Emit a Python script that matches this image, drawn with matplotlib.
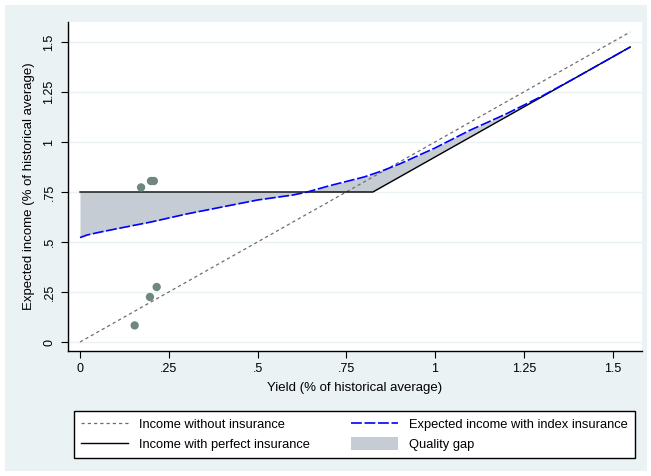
import numpy as np
import matplotlib
matplotlib.use("Agg")
import matplotlib.pyplot as plt
from matplotlib.patches import Rectangle, Patch
from matplotlib.lines import Line2D

plt.rcParams['font.family'] = ['Liberation Sans', 'DejaVu Sans']

# Data
no_ins_x = [0.0, 1.55]
no_ins_y = [0.0, 1.55]

perfect_x = [0.0, 0.825, 1.55]
perfect_y = [0.75, 0.75, 1.475]

index_x = [0.0, 0.02, 0.05, 0.1, 0.2, 0.25, 0.3, 0.4, 0.5, 0.6, 0.64, 0.7, 0.8, 0.85, 0.9,
           1.0, 1.1, 1.2, 1.3, 1.4, 1.55]
index_y = [0.522, 0.535, 0.547, 0.565, 0.60, 0.62, 0.64, 0.675, 0.71, 0.735, 0.75, 0.78, 0.825,
           0.855, 0.89, 0.97, 1.06, 1.14, 1.228, 1.325, 1.475]

pts_x = [0.154, 0.172, 0.200, 0.208, 0.197, 0.216]
pts_y = [0.083, 0.773, 0.805, 0.805, 0.225, 0.275]

xticks = [0, 0.25, 0.5, 0.75, 1, 1.25, 1.5]
xticklabels = ['0', '.25', '.5', '.75', '1', '1.25', '1.5']
yticks = [0, 0.25, 0.5, 0.75, 1, 1.25, 1.5]
yticklabels = ['0', '.25', '.5', '.75', '1', '1.25', '1.5']

W, H = 651, 476
fig = plt.figure(figsize=(W / 100, H / 100), dpi=100)
fig.patch.set_facecolor('white')
bg = Rectangle((5 / W, 5 / H), 642 / W, 466 / H, transform=fig.transFigure,
               facecolor='#EAF2F3', edgecolor='none', zorder=-10)
fig.patches.append(bg)

ax = fig.add_axes([68 / W, (H - 351) / H, (642 - 68) / W, (351 - 22) / H])
ax.set_facecolor('white')

# fill for quality gap
grid = np.union1d(np.array(index_x), np.array(perfect_x))
grid = np.union1d(grid, np.linspace(0, 1.55, 400))
b = np.interp(grid, perfect_x, perfect_y)
bl = np.interp(grid, index_x, index_y)
ax.fill_between(grid, b, bl, color='#C6CCD3', linewidth=0, zorder=1)

for yv in yticks:
    ax.axhline(yv, color='#EAF2F3', lw=1.0, zorder=0)

ax.plot(no_ins_x, no_ins_y, color='#6E6E6E', lw=0.9, dashes=(2.6, 2.4), zorder=3)
ax.plot(perfect_x, perfect_y, color='black', lw=1.0, zorder=3)
ax.plot(index_x, index_y, color='#0000FF', lw=1.2, dashes=(6.5, 1.6), zorder=4)
ax.scatter(pts_x, pts_y, s=36, color='#6E887E', edgecolors='none', zorder=5)

ax.set_xlim((68 - 80) / 355, (642 - 80) / 355)
ax.set_ylim((342 - 351) / 200, (342 - 22) / 200)

ax.set_xticks(xticks)
ax.set_xticklabels(xticklabels)
ax.set_yticks(yticks)
ax.set_yticklabels(yticklabels, rotation=90, va='center')
ax.tick_params(axis='both', direction='out', length=5, width=0.8, labelsize=9, pad=4)

for s in ['top', 'right']:
    ax.spines[s].set_visible(False)
for s in ['left', 'bottom']:
    ax.spines[s].set_color('black')
    ax.spines[s].set_linewidth(1.0)

ax.set_xlabel('Yield (% of historical average)', fontsize=9.5, labelpad=5)
ax.set_ylabel('Expected income (% of historical average)', fontsize=9.5, labelpad=6)

handles = [
    Line2D([], [], color='#6E6E6E', lw=0.9, dashes=(2.6, 2.4)),
    Line2D([], [], color='black', lw=1.0),
    Line2D([], [], color='#0000FF', lw=1.2, dashes=(6.5, 1.6)),
    Patch(facecolor='#C6CCD3', edgecolor='none'),
]
labels = ['Income without insurance', 'Income with perfect insurance',
          'Expected income with index insurance', 'Quality gap']
leg = fig.legend(handles, labels, ncol=2, loc='lower left',
                 bbox_to_anchor=(74 / W, (H - 458) / H, (635 - 74) / W, (458 - 404) / H),
                 mode='expand', fontsize=9.3, frameon=True, fancybox=False,
                 edgecolor='black', facecolor='white', framealpha=1,
                 handlelength=3.6, handleheight=1.1, handletextpad=0.9, columnspacing=1.6,
                 borderaxespad=0, labelspacing=0.45, borderpad=0.55)
leg.get_frame().set_linewidth(1.0)

fig.savefig('out.png', dpi=100, facecolor=fig.get_facecolor())
